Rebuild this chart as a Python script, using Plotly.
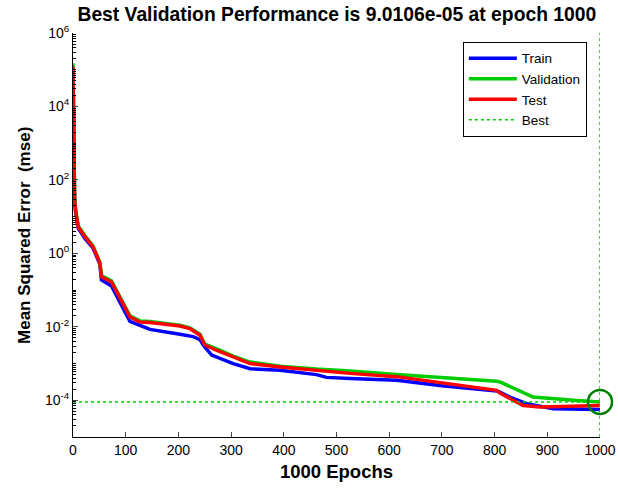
import plotly.graph_objects as go

# ---- data ----
train_epochs = [0, 1, 2, 3, 5, 10, 23, 38, 51, 54, 73, 95, 108, 127, 146, 203, 228, 241, 247, 263, 304, 336, 393, 462, 481, 526, 614, 700, 804, 810, 830, 861, 911, 1000]
train_mse = [1.1e5, 9.0e2, 9.0e1, 2.8e1, 1.3e1, 4.8, 2.5, 1.4, 5.0e-1, 1.9e-1, 1.3e-1, 3.2e-2, 1.4e-2, 1.1e-2, 8.5e-3, 6.3e-3, 5.4e-3, 4.5e-3, 3.2e-3, 1.7e-3, 1.0e-3, 7.2e-4, 6.6e-4, 5.0e-4, 4.2e-4, 3.9e-4, 3.5e-4, 2.5e-4, 1.8e-4, 1.66e-4, 1.2e-4, 8.1e-5, 5.9e-5, 5.6e-5]

valid_epochs = [0, 1, 2, 3, 5, 10, 23, 38, 51, 54, 73, 95, 108, 127, 146, 203, 222, 241, 250, 273, 304, 336, 393, 462, 526, 614, 700, 804, 810, 873, 950, 1000]
valid_mse = [1.5e5, 1.1e3, 1.1e2, 3.4e1, 1.5e1, 5.6, 3.0, 1.6, 5.7e-1, 2.5e-1, 1.8e-1, 4.7e-2, 2.0e-2, 1.45e-2, 1.4e-2, 1.1e-2, 9.3e-3, 6.3e-3, 3.4e-3, 2.5e-3, 1.6e-3, 1.1e-3, 8.5e-4, 7.1e-4, 6.3e-4, 5.0e-4, 4.2e-4, 3.3e-4, 3.16e-4, 1.23e-4, 1.0e-4, 9.0106e-5]

test_epochs = [0, 1, 2, 3, 5, 10, 23, 38, 51, 54, 73, 95, 108, 127, 146, 203, 222, 241, 250, 273, 304, 336, 393, 462, 526, 614, 700, 804, 810, 830, 854, 886, 950, 1000]
test_mse = [1.2e5, 1.0e3, 1.0e2, 3.2e1, 1.4e1, 5.2, 2.8, 1.5, 5.4e-1, 2.3e-1, 1.66e-1, 4.4e-2, 1.86e-2, 1.35e-2, 1.32e-2, 1.05e-2, 8.9e-3, 5.9e-3, 3.2e-3, 2.3e-3, 1.5e-3, 1.0e-3, 8.1e-4, 6.6e-4, 5.4e-4, 4.4e-4, 3.0e-4, 1.86e-4, 1.58e-4, 1.12e-4, 7.2e-5, 6.6e-5, 6.8e-5, 7.2e-5]

best_epoch = 1000
best_perf = 9.0106e-05

y_tick_vals = [1e-4, 1e-2, 1e0, 1e2, 1e4, 1e6]
y_tick_text = ["10<sup>-4</sup>", "10<sup>-2</sup>", "10<sup>0</sup>", "10<sup>2</sup>", "10<sup>4</sup>", "10<sup>6</sup>"]
x_tick_vals = [0, 100, 200, 300, 400, 500, 600, 700, 800, 900, 1000]

BLUE = "rgb(0,0,255)"
GREEN = "rgb(0,204,0)"
RED = "rgb(255,0,0)"
DARKGREEN = "rgb(0,128,0)"

fig = go.Figure()
fig.add_trace(go.Scatter(x=train_epochs, y=train_mse, mode="lines", name="Train",
                         line=dict(color=BLUE, width=3.5)))
fig.add_trace(go.Scatter(x=valid_epochs, y=valid_mse, mode="lines", name="Validation",
                         line=dict(color=GREEN, width=3.5)))
fig.add_trace(go.Scatter(x=test_epochs, y=test_mse, mode="lines", name="Test",
                         line=dict(color=RED, width=3.5)))
fig.add_trace(go.Scatter(x=[0, best_epoch], y=[best_perf, best_perf], mode="lines", name="Best",
                         line=dict(color=GREEN, width=1.5, dash="dot")))
fig.add_trace(go.Scatter(x=[best_epoch, best_epoch], y=[1e-5, 1e6], mode="lines", showlegend=False,
                         line=dict(color=GREEN, width=1.5, dash="dot"), cliponaxis=False))
fig.add_trace(go.Scatter(x=[best_epoch], y=[best_perf], mode="markers", showlegend=False,
                         marker=dict(symbol="circle-open", size=24, color=DARKGREEN,
                                     line=dict(width=2.5, color=DARKGREEN)),
                         cliponaxis=False))

minor_vals = []
for e in range(-5, 6):
    for d in range(1, 10):
        minor_vals.append(d * 10.0 ** e)

fig.update_layout(
    width=618, height=493,
    margin=dict(l=73, r=18, t=33, b=56),
    paper_bgcolor="white", plot_bgcolor="white",
    font=dict(family="Liberation Sans, Arial, sans-serif", size=14, color="black"),
    title=dict(text="<b>Best Validation Performance is 9.0106e-05 at epoch 1000</b>",
               x=0.545, xanchor="center", y=0.972, yanchor="middle", font=dict(size=19.3)),
    showlegend=True,
    legend=dict(x=0.975, xanchor="right", y=0.978, yanchor="top",
                bordercolor="black", borderwidth=1, bgcolor="white",
                font=dict(size=13.5), tracegroupgap=0, itemwidth=48),
    xaxis=dict(range=[0, 1000], tickvals=x_tick_vals, ticks="inside", ticklen=5,
               showline=True, linecolor="black", linewidth=1, mirror=False,
               showgrid=False, zeroline=False, tickfont=dict(size=14), automargin=False,
               title=dict(text="<b>1000 Epochs</b>", font=dict(size=18.5), standoff=8)),
    yaxis=dict(type="log", range=[-5, 6], tickvals=y_tick_vals, ticktext=y_tick_text,
               ticks="inside", ticklen=5, showline=True, linecolor="black", linewidth=1,
               mirror=False, showgrid=False, zeroline=False, tickfont=dict(size=14), automargin=False,
               minor=dict(tickvals=minor_vals, ticks="inside", ticklen=3, tickcolor="black")),
    annotations=[dict(text="<b>Mean Squared Error  (mse)</b>", textangle=-90,
                      xref="paper", yref="paper", x=-0.093, y=0.5,
                      xanchor="center", yanchor="middle", showarrow=False,
                      font=dict(size=17))],
)

fig.write_html("out.html")
